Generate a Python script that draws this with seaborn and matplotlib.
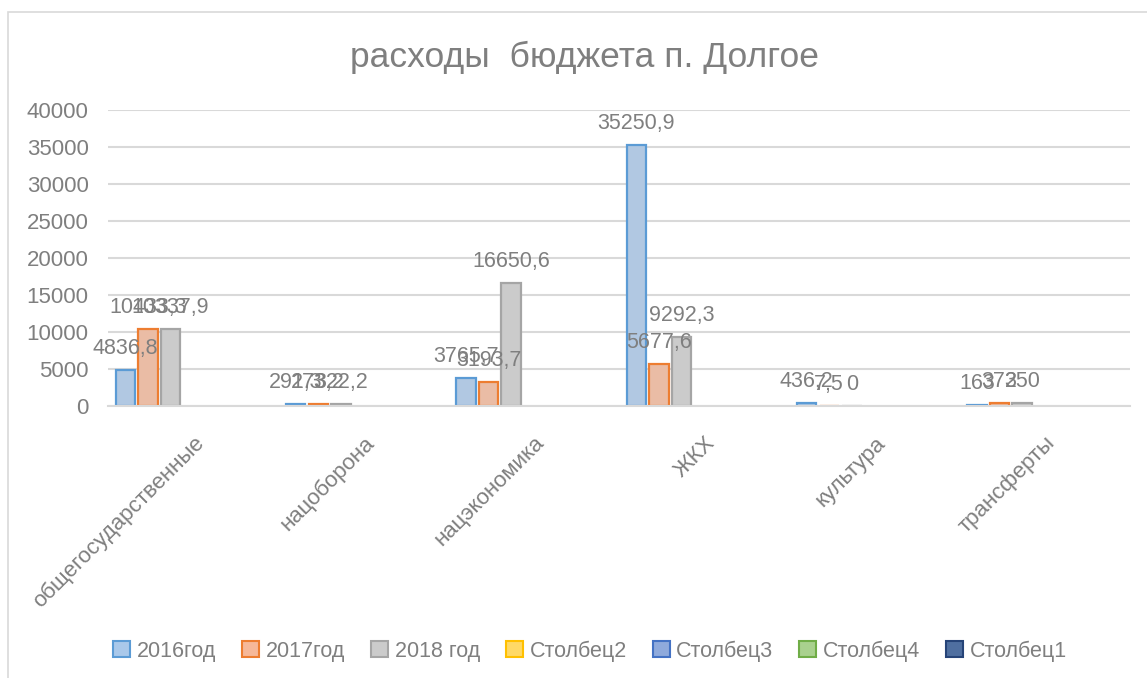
import numpy as np
import pandas as pd
import matplotlib
matplotlib.use("Agg")
import matplotlib.pyplot as plt
import matplotlib.patches as mpatches
import seaborn as sns

categories = ["общегосударственные", "нацоборона", "нацэкономика", "ЖКХ", "культура", "трансферты"]
series = ["2016год", "2017год", "2018 год", "Столбец2", "Столбец3", "Столбец4", "Столбец1"]
v2016 = [4836.8, 291.3, 3765.7, 35250.9, 436.2, 163]
v2017 = [10433.3, 273.2, 3193.7, 5677.6, 7.5, 372]
v2018 = [10337.9, 322.2, 16650.6, 9292.3, 0, 350]
empty = [np.nan] * 6
title = "расходы  бюджета п. Долгое"
yticks = [0, 5000, 10000, 15000, 20000, 25000, 30000, 35000, 40000]

fills = ["#a9c8ea", "#f6b899", "#cbcbcb", "#ffd966", "#8faadc", "#a9d18e", "#4f6fa0"]
edges = ["#5b9bd5", "#ed7d31", "#a5a5a5", "#ffc000", "#4472c4", "#70ad47", "#264478"]
grey_txt = "#7f7f7f"

rows = []
for s, vals in zip(series, [v2016, v2017, v2018, empty, empty, empty, empty]):
    for c, v in zip(categories, vals):
        rows.append({"cat": c, "series": s, "value": v})
df = pd.DataFrame(rows)

sns.set_style("white")
plt.rcParams["font.family"] = ["Liberation Sans", "DejaVu Sans"]

fig = plt.figure(figsize=(11.47, 6.78), dpi=100)
ax = fig.add_axes([108 / 1147, 1 - 406 / 678, (1130 - 108) / 1147, (406 - 110) / 678])

sns.barplot(data=df, x="cat", y="value", hue="series", hue_order=series, order=categories,
            palette=dict(zip(series, fills)), width=0.93, gap=0.14, ax=ax, legend=False,
            err_kws={"linewidth": 0})

for i, cont in enumerate(ax.containers):
    for p in cont.patches:
        p.set_edgecolor(edges[i])
        p.set_linewidth(1.6)
    if i < 3:
        vals = [v2016, v2017, v2018][i]
        labels = []
        for v in vals:
            if float(v).is_integer():
                labels.append(str(int(v)))
            else:
                labels.append(f"{v:.1f}".replace(".", ","))
        ax.bar_label(cont, labels=labels, padding=8, fontsize=15.5, color=grey_txt)

ax.set_ylim(0, 40000)
ax.set_yticks(yticks)
ax.set_yticklabels([str(t) for t in yticks])
ax.tick_params(axis="y", length=0, labelsize=16, labelcolor=grey_txt, pad=14)
ax.tick_params(axis="x", length=0, labelsize=16, labelcolor=grey_txt, pad=19)
plt.setp(ax.get_xticklabels(), rotation=45, ha="right", rotation_mode="anchor")
ax.set_xlabel("")
ax.set_ylabel("")
ax.grid(axis="y", color="#d9d9d9", linewidth=1.5)
ax.set_axisbelow(True)
for sp in ["top", "right", "left"]:
    ax.spines[sp].set_visible(False)
ax.spines["bottom"].set_color("#d9d9d9")
ax.spines["bottom"].set_linewidth(1.5)

fig.text(585 / 1147, 1 - 57 / 678, title, ha="center", va="center", fontsize=25.5, color=grey_txt)

handles = [mpatches.Patch(facecolor=f, edgecolor=e, linewidth=1.5) for f, e in zip(fills, edges)]
fig.legend(handles, series, loc="center", bbox_to_anchor=(590 / 1147, 1 - 651 / 678), ncol=7,
           frameon=False, fontsize=15.5, labelcolor=grey_txt, handlelength=0.8, handleheight=0.8,
           handletextpad=0.3, columnspacing=1.2)

border = mpatches.Rectangle((8 / 1147, -0.05), 1.2, 1 - 12 / 678 + 0.05, transform=fig.transFigure,
                            fill=False, edgecolor="#d9d9d9", linewidth=1.2)
fig.add_artist(border)

fig.savefig("out.png", dpi=100)
